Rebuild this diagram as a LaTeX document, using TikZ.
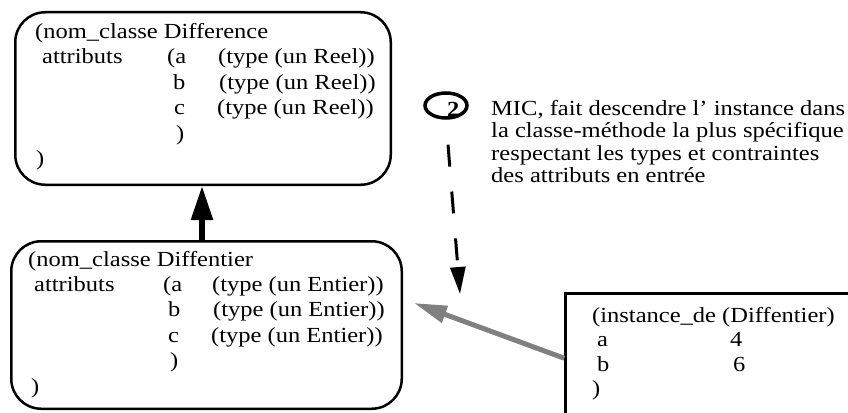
\documentclass[tikz,border=0pt]{standalone}
\usepackage{fontspec}
\setmainfont{Liberation Serif}[FakeStretch=1.14]
\usetikzlibrary{arrows.meta, positioning, shapes.geometric}
\newcommand{\codesize}{\fontsize{21.5}{25.5}\selectfont}

\begin{document}
\begin{tikzpicture}[
    x=1pt, y=-1pt,
    every node/.style={font=\codesize},
    classbox/.style={draw, line width=2.5pt, rounded corners=30pt, inner sep=0pt},
    instbox/.style={draw, line width=2.5pt, inner sep=0pt, anchor=north west},
    codeline/.style={anchor=base west, inner sep=0pt},
    stepmark/.style={ellipse, draw, line width=3.5pt, inner sep=0pt, minimum width=42pt, minimum height=25pt},
    inherit/.style={line width=5.5pt, -{Triangle[length=34pt, width=21pt]}},
    descend/.style={line width=3pt, dash pattern=on 22pt off 25pt, dash phase=22pt, -{Triangle[length=27pt, width=15pt]}},
    instof/.style={draw=gray, line width=5pt, -{Triangle[length=33pt, width=17pt]}},
]
\useasboundingbox (0,0) rectangle (848,412);
% class Difference
\node[classbox, minimum width=375.5pt, minimum height=172.5pt] (difference) at (203,98.5) {};
\node[codeline] (dfname) at (35,38) {(nom\_classe Difference};
\node[codeline] (dfattr) at (42,63.5) {attributs};
\node[codeline] (dfa) at (167,63.5) {(a};
\node[codeline] (dfatype) at (218,63.5) {(type (un Reel))};
\node[codeline] (dfb) at (173,89) {b};
\node[codeline] (dfbtype) at (219,89) {(type (un Reel))};
\node[codeline] (dfc) at (174,114.5) {c};
\node[codeline] (dfctype) at (217,114.5) {(type (un Reel))};
\node[codeline] (dfclose) at (176,140) {)};
\node[codeline] (dfend) at (36,165.5) {)};
% class Diffentier
\node[classbox, minimum width=390.5pt, minimum height=167.5pt] (diffentier) at (206.5,325) {};
\node[codeline] (dename) at (28,266) {(nom\_classe Diffentier};
\node[codeline] (deattr) at (34,291) {attributs};
\node[codeline] (dea) at (163,291) {(a};
\node[codeline] (deatype) at (212,291) {(type (un Entier))};
\node[codeline] (deb) at (168,316.5) {b};
\node[codeline] (debtype) at (213,316.5) {(type (un Entier))};
\node[codeline] (dec) at (168,342) {c};
\node[codeline] (dectype) at (211,342) {(type (un Entier))};
\node[codeline] (declose) at (170,367.5) {)};
\node[codeline] (deend) at (31,393) {)};
% instance
\node[instbox, minimum width=400pt, minimum height=200pt] (instance) at (564.25,292.25) {};
\node[codeline] (inname) at (592,322) {(instance\_de (Diffentier)};
\node[codeline] (ina) at (597,346.5) {a};
\node[codeline] (inaval) at (730,346.5) {4};
\node[codeline] (inb) at (597,371) {b};
\node[codeline] (inbval) at (733,371) {6};
\node[codeline] (inend) at (592,395.5) {)};
% step 2
\node[stepmark] (step2) at (446,105.5) {};
\node[codeline, font=\codesize\bfseries] (stepnum) at (447,116) {2};
\node[codeline] (note1) at (491,115) {MIC, fait descendre l' instance dans};
\node[codeline] (note2) at (491,137.5) {la classe-méthode la plus spécifique};
\node[codeline] (note3) at (491,160) {respectant les types et contraintes};
\node[codeline] (note4) at (491,182.5) {des attributs en entrée};
\coordinate (drop) at (460,294);
\coordinate (target) at (414,303);
% connectors
\draw[inherit] ([xshift=-4.5pt]diffentier.north) -- ([xshift=-1pt]difference.south);
\draw[descend] (step2.south) -- (drop);
\draw[instof] ([yshift=-66pt]instance.north west) -- (target);
\end{tikzpicture}
\end{document}
